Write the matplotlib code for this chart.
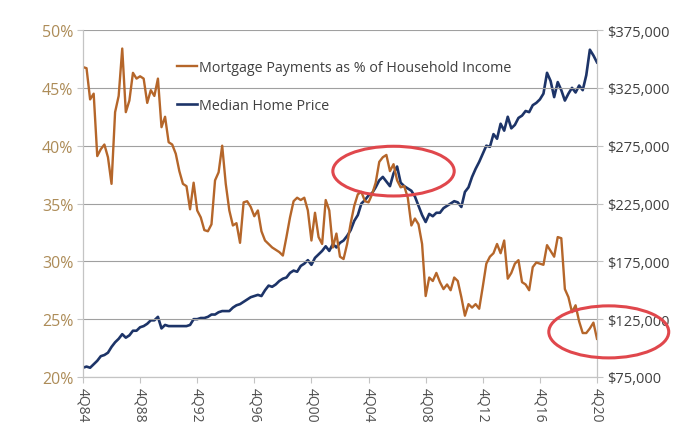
import numpy as np
import matplotlib
matplotlib.use('Agg')
import matplotlib.pyplot as plt
from matplotlib.patches import Ellipse
from matplotlib.ticker import FuncFormatter

plt.rcParams['font.family'] = ['Open Sans', 'DejaVu Sans']

# quarterly, 4Q84 .. 4Q20
mortgage_pct = [
    46.8, 46.7, 44.0, 44.5, 39.1, 39.7, 40.1, 39.0, 36.7, 42.9,
    44.3, 48.4, 42.9, 43.9, 46.3, 45.8, 46.0, 45.8, 43.7, 44.8,
    44.3, 45.8, 41.6, 42.5, 40.3, 40.1, 39.3, 37.8, 36.7, 36.5,
    34.5, 36.8, 34.4, 33.8, 32.7, 32.6, 33.2, 37.0, 37.7, 40.0,
    36.7, 34.4, 33.1, 33.3, 31.6, 35.1, 35.2, 34.7, 33.9, 34.4,
    32.6, 31.8, 31.5, 31.2, 31.0, 30.8, 30.5, 32.1, 33.8, 35.2,
    35.5, 35.3, 35.5, 34.4, 31.8, 34.2, 32.1, 31.5, 35.3, 34.4,
    31.2, 32.4, 30.4, 30.2, 31.5, 33.3, 34.8, 35.8, 36.0, 35.2,
    35.1, 35.8, 36.8, 38.6, 39.0, 39.2, 37.8, 38.4, 37.0, 36.4,
    36.5, 35.5, 33.1, 33.7, 33.2, 31.5, 27.0, 28.6, 28.3, 29.0,
    28.2, 27.6, 28.0, 27.5, 28.6, 28.3, 26.9, 25.3, 26.3, 26.0,
    26.3, 25.9, 27.8, 29.8, 30.4, 30.7, 31.5, 30.7, 31.8, 28.5,
    29.0, 29.8, 30.1, 28.2, 28.0, 27.5, 29.5, 29.9, 29.8, 29.7,
    31.4, 30.9, 30.4, 32.1, 32.0, 27.6, 26.9, 25.6, 26.2, 24.8,
    23.8, 23.8, 24.2, 24.7, 23.3,
]

# median home price, thousands of dollars
home_price_k = [
    83, 84, 83, 86, 89, 93, 94, 96, 101, 105,
    108, 112, 109, 111, 115, 115, 118, 119, 121, 124,
    124, 127, 117, 120, 119, 119, 119, 119, 119, 119,
    120, 125, 125, 126, 126, 127, 129, 129, 131, 132,
    132, 132, 135, 137, 138, 140, 142, 144, 145, 146,
    145, 150, 154, 153, 155, 158, 160, 161, 165, 167,
    166, 171, 173, 176, 172, 178, 181, 184, 188, 184,
    190, 187, 191, 193, 197, 202, 210, 215, 225, 228,
    232, 234, 239, 245, 248, 244, 240, 251, 257, 243,
    240, 238, 236, 231, 223, 215, 209, 216, 214, 217,
    217, 221, 223, 225, 227, 226, 222, 235, 239, 248,
    255, 261, 268, 275, 274, 285, 281, 294, 288, 300,
    290, 293, 299, 301, 305, 304, 310, 312, 315, 320,
    338, 331, 317, 330, 323, 314, 320, 325, 321, 327,
    323, 336, 358, 353, 347,
]

tick_labels = ["4Q84", "4Q88", "4Q92", "4Q96", "4Q00",
               "4Q04", "4Q08", "4Q12", "4Q16", "4Q20"]

ORANGE = "#b5662a"
NAVY = "#1d3468"
GRID = "#a0a0a0"

q = np.arange(len(mortgage_pct))
price = np.array(home_price_k) * 1000

fig = plt.figure(figsize=(6.84, 4.31), dpi=100)
ax = fig.add_axes([0.1213, 0.123, 0.7515, 0.805])
ax2 = ax.twinx()

ax.set_zorder(ax2.get_zorder() + 1)
ax.patch.set_visible(False)

l1, = ax.plot(q, mortgage_pct, color=ORANGE, linewidth=1.7,
              label="Mortgage Payments as % of Household Income")
l2, = ax2.plot(q, price, color=NAVY, linewidth=1.9,
               label="Median Home Price")

ax.set_xlim(0, len(q) - 1)
ax.set_ylim(20, 50)
ax2.set_ylim(75000, 375000)

ax.set_yticks(np.arange(20, 51, 5))
ax.yaxis.set_major_formatter(FuncFormatter(lambda v, p: f"{v:.0f}%"))
ax2.set_yticks(np.arange(75000, 375001, 50000))
ax2.yaxis.set_major_formatter(FuncFormatter(lambda v, p: f"${v:,.0f}"))

ax.set_xticks(np.arange(0, len(q), 16))
ax.set_xticklabels(tick_labels, rotation=-90, fontsize=10, color="#505050")

ax.grid(axis="y", color=GRID, linewidth=0.8)
ax.set_axisbelow(True)

for a in (ax, ax2):
    for s in a.spines.values():
        s.set_color("#c4c4c4")
        s.set_linewidth(0.8)
    a.spines["top"].set_visible(False)

ax.tick_params(axis="y", colors="#ad8c58", labelsize=11.5, length=4,
               color="#c4c4c4", pad=3)
ax.tick_params(axis="x", length=4, color="#c4c4c4", pad=3)
ax2.tick_params(axis="y", colors="#404040", labelsize=10.5, length=4,
                color="#c4c4c4")

leg = ax.legend(handles=[l1, l2], loc="upper left",
                bbox_to_anchor=(0.158, 0.95), frameon=False,
                fontsize=10.3, handlelength=1.4, handletextpad=0.1,
                labelspacing=1.6)
for t in leg.get_texts():
    t.set_color("#404040")

# red annotation ellipses
RED = "#e0474c"
ax.add_patch(Ellipse((87, 37.8), 34, 4.3, fill=False, edgecolor=RED,
                     linewidth=2.2, clip_on=False, zorder=5))
ax.add_patch(Ellipse((147.3, 23.9), 33.6, 4.5, fill=False, edgecolor=RED,
                     linewidth=2.2, clip_on=False, zorder=5))

fig.savefig("out.png", dpi=100, facecolor="white")
plt.close()
